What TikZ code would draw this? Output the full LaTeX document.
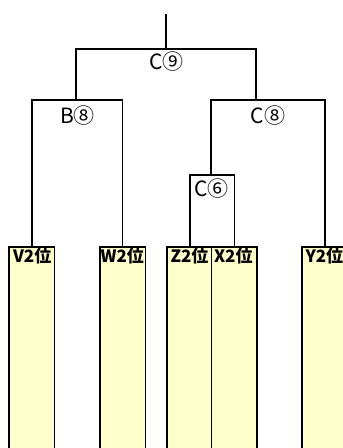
\documentclass[tikz,border=0pt]{standalone}
\usepackage{fontspec}
\newfontfamily\jpfont{Noto Sans CJK JP}
\usepackage{tikz}
\usetikzlibrary{positioning, calc}
\definecolor{leafyellow}{HTML}{FFFFCC}

\begin{document}
\begin{tikzpicture}[
    x=1pt, y=-1pt,
    leaf/.style={rectangle, draw, fill=leafyellow, line width=1.5pt, minimum width=45.5pt, minimum height=210pt, anchor=north west, inner sep=0pt},
    leaflabel/.style={font=\jpfont\bfseries\fontsize{17}{17}\selectfont, anchor=north west, inner sep=0pt},
    tag/.style={font=\jpfont\fontsize{21}{21}\selectfont, inner sep=0pt},
    branch/.style={line width=1.5pt}
]
    \clip (0,0) rectangle (343,448);

    % --- Leaf Boxes ---
    \node[leaf] (v) at (8.3,246) {};
    \node[leaf] (w) at (99,246) {};
    \node[leaf] (z) at (166.3,246) {};
    \node[leaf] (x) at (210.8,246) {};
    \node[leaf] (y) at (301.3,246) {};

    \node[leaflabel] (vl) at ($(v.north west)+(4.5,1.5)$) {V2位};
    \node[leaflabel] (wl) at ($(w.north west)+(1.5,1.5)$) {W2位};
    \node[leaflabel] (zl) at ($(z.north west)+(4,1.5)$) {Z2位};
    \node[leaflabel] (xl) at ($(x.north west)+(3,1.5)$) {X2位};
    \node[leaflabel] (yl) at ($(y.north west)+(4,1.5)$) {Y2位};

    % --- Junctions ---
    \coordinate (root) at (166,14);
    \coordinate (n9) at (166,49);
    \coordinate (n8b) at (76,100);
    \coordinate (n8c) at (256,100);
    \coordinate (n6) at (211,175);

    % --- Tree Lines ---
    \draw[branch] (root) -- (n9);
    \draw[branch] (n8b) |- (n9) -| (n8c);
    \draw[branch] (v.north) |- (n8b) -| (w.north);
    \draw[branch] (n6) |- (n8c) -| (y.north);
    \draw[branch] (z.north) |- (n6) -| (x.north);

    % --- Match Labels ---
    \node[tag] (t9) at ($(n9)+(0.5,12.5)$) {C⑨};
    \node[tag] (t8b) at ($(n8b)+(1.5,15.5)$) {B⑧};
    \node[tag] (t8c) at ($(n8c)+(12,15.5)$) {C⑧};
    \node[tag] (t6) at ($(n6)+(0.5,14)$) {C⑥};

\end{tikzpicture}
\end{document}
